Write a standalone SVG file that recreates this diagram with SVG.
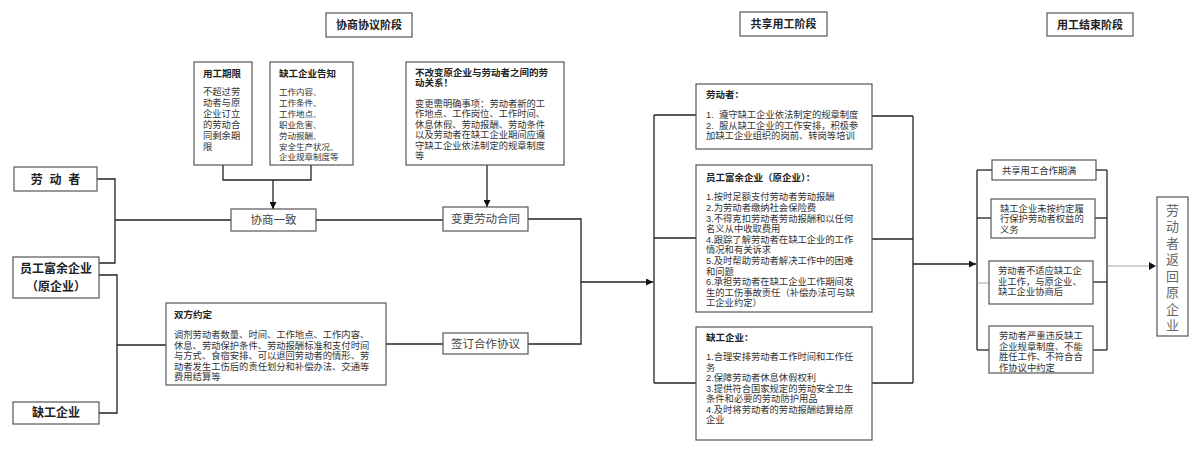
<svg xmlns="http://www.w3.org/2000/svg" width="1200" height="455" viewBox="0 0 1200 455">
<defs>
<marker id="arr" viewBox="0 0 10 10" refX="10" refY="5" markerWidth="7" markerHeight="7" markerUnits="userSpaceOnUse" orient="auto">
<path d="M0,0 L10,5 L0,10 z" fill="#111"/>
</marker>
<style>
text{font-family:"Liberation Sans","Noto Sans CJK SC",sans-serif;fill:#222}
.box{fill:#fff;stroke:#555;stroke-width:1.2}
.hdr{font-size:11px;font-weight:bold;text-anchor:middle}
.node{font-size:12px;font-weight:bold;text-anchor:middle}
.lbl{font-size:11.5px;text-anchor:middle;fill:#444}
.t{font-size:9.5px;font-weight:bold}
.b{font-size:9.3px;fill:#333}
.s{font-size:8.5px;fill:#333}
.v{font-size:13px;text-anchor:middle;fill:#666}
.c{fill:none;stroke:#222;stroke-width:1.3}
.g{fill:none;stroke:#999;stroke-width:0.9}
</style>
</defs>
<rect width="1200" height="455" fill="#fff"/>

<g id="header-negotiation"><rect class="box" x="326" y="13" width="86" height="24"/><text class="hdr" x="369" y="29">协商协议阶段</text></g>
<g id="header-sharing"><rect class="box" x="740" y="12" width="87" height="24"/><text class="hdr" x="783.5" y="28">共享用工阶段</text></g>
<g id="header-end"><rect class="box" x="1047" y="13" width="86" height="23"/><text class="hdr" x="1090" y="29">用工结束阶段</text></g>

<g id="connectors">
<polyline class="c" points="97,179 115,179 115,263 99,263"/>
<line class="c" x1="115" y1="220" x2="231" y2="220"/>
<polyline class="c" points="223,165 223,180 311,180 311,165"/>
<line class="c" x1="273" y1="180" x2="273" y2="209" marker-end="url(#arr)"/>
<line class="c" x1="316" y1="220" x2="443" y2="220"/>
<line class="c" x1="487" y1="165" x2="487" y2="207" marker-end="url(#arr)"/>
<polyline class="c" points="99,275 117,275 117,413 99,413"/>
<line class="c" x1="117" y1="345" x2="166" y2="345"/>
<line class="c" x1="386" y1="344" x2="443" y2="344"/>
<polyline class="c" points="528,219 581,219 581,344 528,344"/>
<line class="c" x1="581" y1="282" x2="653" y2="282" marker-end="url(#arr)"/>
<line class="c" x1="654" y1="115" x2="654" y2="383"/>
<line class="c" x1="654" y1="115" x2="696" y2="115"/>
<line class="c" x1="654" y1="238" x2="696" y2="238"/>
<line class="c" x1="654" y1="383" x2="696" y2="383"/>
<line class="c" x1="913" y1="116" x2="913" y2="383"/>
<line class="c" x1="872" y1="116" x2="913" y2="116"/>
<line class="c" x1="872" y1="239" x2="913" y2="239"/>
<line class="c" x1="872" y1="383" x2="913" y2="383"/>
<line class="c" x1="913" y1="264" x2="976" y2="264" marker-end="url(#arr)"/>
<line class="c" x1="977" y1="170" x2="977" y2="350"/>
<line class="c" x1="977" y1="170" x2="992" y2="170"/>
<line class="c" x1="977" y1="218" x2="991" y2="218"/>
<line class="g" x1="977" y1="283" x2="989" y2="283"/>
<line class="c" x1="977" y1="350" x2="989" y2="350"/>
<line class="c" x1="1107" y1="170" x2="1107" y2="350"/>
<line class="c" x1="1096" y1="170" x2="1107" y2="170"/>
<line class="c" x1="1095" y1="218" x2="1107" y2="218"/>
<line class="c" x1="1093" y1="282" x2="1107" y2="282"/>
<line class="c" x1="1093" y1="350" x2="1107" y2="350"/>
<line class="g" x1="1107" y1="266" x2="1150" y2="266"/>
<path d="M1149,262 L1156,266 L1149,270 z" fill="#111"/>
</g>

<g id="node-worker"><rect class="box" x="14" y="167" width="83" height="24"/><text class="node" x="55.5" y="183.5" xml:space="preserve">劳  动  者</text></g>
<g id="node-surplus"><rect class="box" x="13" y="257" width="86" height="41"/><text class="node" x="56" y="273">员工富余企业<tspan x="56" dy="18">（原企业）</tspan></text></g>
<g id="node-shortage"><rect class="box" x="13" y="402" width="86" height="22"/><text class="node" x="56" y="417">缺工企业</text></g>

<g id="node-term"><rect class="box" x="194" y="62" width="58" height="103"/>
<text class="t" x="203" y="77">用工期限</text>
<text class="b" x="203" y="95">不超过劳<tspan x="203" dy="11">动者与原</tspan><tspan x="203" dy="11">企业订立</tspan><tspan x="203" dy="11">的劳动合</tspan><tspan x="203" dy="11">同剩余期</tspan><tspan x="203" dy="11">限</tspan></text>
</g>
<g id="node-inform"><rect class="box" x="270" y="62" width="83" height="103"/>
<text class="t" x="279" y="77">缺工企业告知</text>
<text class="s" x="279" y="95">工作内容、<tspan x="279" dy="10.9">工作条件、</tspan><tspan x="279" dy="10.9">工作地点、</tspan><tspan x="279" dy="10.9">职业危害、</tspan><tspan x="279" dy="10.9">劳动报酬、</tspan><tspan x="279" dy="10.9">安全生产状况、</tspan><tspan x="279" dy="10.9">企业规章制度等</tspan></text>
</g>
<g id="node-noChange"><rect class="box" x="406" y="62" width="158" height="103"/>
<text class="t" x="415" y="75.5">不改变原企业与劳动者之间的劳<tspan x="415" dy="10.6">动关系！</tspan></text>
<text class="b" x="415" y="107">变更需明确事项：劳动者新的工<tspan x="415" dy="10.4">作地点、工作岗位、工作时间、</tspan><tspan x="415" dy="10.4">休息休假、劳动报酬、劳动条件</tspan><tspan x="415" dy="10.4">以及劳动者在缺工企业期间应遵</tspan><tspan x="415" dy="10.4">守缺工企业依法制定的规章制度</tspan><tspan x="415" dy="10.4">等</tspan></text>
</g>
<g id="node-agree"><rect class="box" x="231" y="209" width="85" height="22"/><text class="lbl" x="273.5" y="224">协商一致</text></g>
<g id="node-change"><rect class="box" x="443" y="207" width="85" height="24"/><text class="lbl" x="485.5" y="223">变更劳动合同</text></g>
<g id="node-mutual"><rect class="box" x="166" y="303" width="220" height="82"/>
<text class="t" x="174" y="317.5">双方约定</text>
<text class="b" x="174" y="338.3">调剂劳动者数量、时间、工作地点、工作内容、<tspan x="174" dy="10.5">休息、劳动保护条件、劳动报酬标准和支付时间</tspan><tspan x="174" dy="10.5">与方式、食宿安排、可以退回劳动者的情形、劳</tspan><tspan x="174" dy="10.5">动者发生工伤后的责任划分和补偿办法、交通等</tspan><tspan x="174" dy="10.5">费用结算等</tspan></text>
</g>
<g id="node-sign"><rect class="box" x="443" y="333" width="85" height="21"/><text class="lbl" x="485.5" y="347.5">签订合作协议</text></g>

<g id="node-workerDuty"><rect class="box" x="696" y="84" width="176" height="65"/>
<text class="t" x="706" y="97.5">劳动者：</text>
<text class="b" x="706" y="118.3" xml:space="preserve">1.  遵守缺工企业依法制定的规章制度<tspan x="706" dy="10.4">2.  服从缺工企业的工作安排，积极参</tspan><tspan x="706" dy="10.4">加缺工企业组织的岗前、转岗等培训</tspan></text>
</g>
<g id="node-surplusDuty"><rect class="box" x="696" y="165" width="176" height="147"/>
<text class="t" x="706" y="180.5">员工富余企业（原企业）：</text>
<text class="b" x="706" y="200.3">1.按时足额支付劳动者劳动报酬<tspan x="706" dy="10.6">2.为劳动者缴纳社会保险费</tspan><tspan x="706" dy="10.6">3.不得克扣劳动者劳动报酬和以任何</tspan><tspan x="706" dy="10.6">名义从中收取费用</tspan><tspan x="706" dy="10.6">4.跟踪了解劳动者在缺工企业的工作</tspan><tspan x="706" dy="10.6">情况和有关诉求</tspan><tspan x="706" dy="10.6">5.及时帮助劳动者解决工作中的困难</tspan><tspan x="706" dy="10.6">和问题</tspan><tspan x="706" dy="10.6">6.承担劳动者在缺工企业工作期间发</tspan><tspan x="706" dy="10.6">生的工伤事故责任（补偿办法可与缺</tspan><tspan x="706" dy="10.6">工企业约定）</tspan></text>
</g>
<g id="node-shortageDuty"><rect class="box" x="696" y="327" width="176" height="113"/>
<text class="t" x="706" y="340.5">缺工企业：</text>
<text class="b" x="706" y="360.3">1.合理安排劳动者工作时间和工作任<tspan x="706" dy="10.5">务</tspan><tspan x="706" dy="10.5">2.保障劳动者休息休假权利</tspan><tspan x="706" dy="10.5">3.提供符合国家规定的劳动安全卫生</tspan><tspan x="706" dy="10.5">条件和必要的劳动防护用品</tspan><tspan x="706" dy="10.5">4.及时将劳动者的劳动报酬结算给原</tspan><tspan x="706" dy="10.5">企业</tspan></text>
</g>

<g id="node-expire"><rect class="box" x="992" y="160" width="104" height="20"/><text class="b" x="1002" y="173.5">共享用工合作期满</text></g>
<g id="node-breach"><rect class="box" x="991" y="199" width="104" height="39"/>
<text class="b" x="1000" y="212">缺工企业未按约定履<tspan x="1000" dy="10.4">行保护劳动者权益的</tspan><tspan x="1000" dy="10.4">义务</tspan></text></g>
<g id="node-unfit"><rect class="box" x="989" y="261" width="104" height="43"/>
<text class="b" x="998" y="274.3">劳动者不适应缺工企<tspan x="998" dy="10.4">业工作，与原企业、</tspan><tspan x="998" dy="10.4">缺工企业协商后</tspan></text></g>
<g id="node-violate"><rect class="box" x="989" y="326" width="104" height="47"/>
<text class="b" x="999" y="339.3">劳动者严重违反缺工<tspan x="999" dy="10.4">企业规章制度、不能</tspan><tspan x="999" dy="10.4">胜任工作、不符合合</tspan><tspan x="999" dy="10.4">作协议中约定</tspan></text></g>
<g id="node-return"><rect class="box" x="1157" y="197" width="31" height="139"/>
<text class="v" x="1172.5" y="214.5">劳<tspan x="1172.5" dy="16.5">动</tspan><tspan x="1172.5" dy="16.5">者</tspan><tspan x="1172.5" dy="16.5">返</tspan><tspan x="1172.5" dy="16.5">回</tspan><tspan x="1172.5" dy="16.5">原</tspan><tspan x="1172.5" dy="16.5">企</tspan><tspan x="1172.5" dy="16.5">业</tspan></text></g>
</svg>
